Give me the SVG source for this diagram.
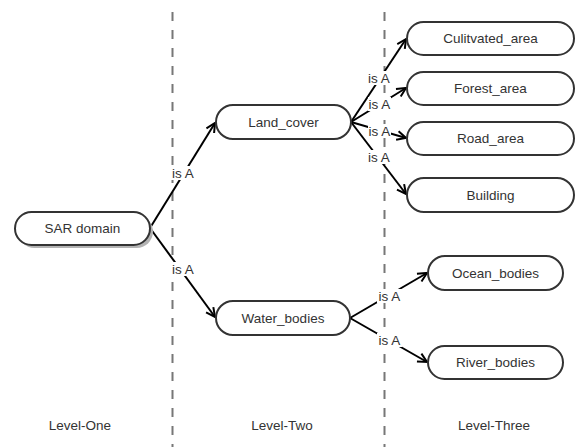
<svg xmlns="http://www.w3.org/2000/svg" width="576" height="447" viewBox="0 0 576 447">
<defs>
<marker id="arr" markerUnits="userSpaceOnUse" markerWidth="12" markerHeight="12" viewBox="0 0 12 12" refX="11" refY="6" orient="auto">
<path d="M2,1.5 L11,6 L2,10.5" fill="none" stroke="#000" stroke-width="2"/>
</marker>
</defs>
<style>
text{font-family:"Liberation Sans",Arial,Helvetica,sans-serif;font-size:13.5px;fill:#333;text-anchor:middle}
.node{fill:#fff;stroke:#333;stroke-width:2}
.edge{fill:none;stroke:#000;stroke-width:2;marker-end:url(#arr)}
.sep{stroke:#777;stroke-width:2;stroke-dasharray:9 9}
.lblbg{fill:#fff}
</style>
<g id="separators">
<line class="sep" x1="172.5" y1="12" x2="172.5" y2="447"/>
<line class="sep" x1="384.5" y1="12" x2="384.5" y2="447"/>
</g>
<g id="connectors">
<path class="edge" d="M150,228 L215,123"/>
<path class="edge" d="M150,228 L215,317"/>
<path class="edge" d="M351,122 L406,39"/>
<path class="edge" d="M351,122 L406,88"/>
<path class="edge" d="M351,122 L406,138"/>
<path class="edge" d="M351,122 L406,194"/>
<path class="edge" d="M350,318 L427,273"/>
<path class="edge" d="M350,318 L427,362"/>
<g id="edge-labels">
<rect class="lblbg" x="171" y="166" width="24" height="14"/><text x="183" y="177.5">is A</text>
<rect class="lblbg" x="171" y="262" width="24" height="14"/><text x="183" y="273.5">is A</text>
<rect class="lblbg" x="367" y="71" width="24" height="14"/><text x="379" y="82.5">is A</text>
<rect class="lblbg" x="368" y="97" width="23" height="14"/><text x="379.5" y="108.5">is A</text>
<rect class="lblbg" x="368" y="124" width="23" height="14"/><text x="379.5" y="135.5">is A</text>
<rect class="lblbg" x="367" y="150" width="24" height="14"/><text x="379" y="161.5">is A</text>
<rect class="lblbg" x="377" y="289" width="25" height="14"/><text x="389.5" y="300.5">is A</text>
<rect class="lblbg" x="377" y="333" width="25" height="14"/><text x="389.5" y="344.5">is A</text>
</g>
</g>
<g id="sar-domain">
<rect x="18" y="215" width="135" height="33" rx="16.5" fill="#b3b3b3"/>
<rect class="node" x="15" y="212" width="135" height="33" rx="16.5" stroke-width="3"/>
<text x="82.5" y="233">SAR domain</text>
</g>
<g id="land-cover">
<rect class="node" x="216" y="105" width="135" height="34" rx="17"/>
<text x="283.5" y="126.5">Land_cover</text>
</g>
<g id="water-bodies">
<rect class="node" x="216" y="301" width="134" height="34" rx="17"/>
<text x="283" y="322.5">Water_bodies</text>
</g>
<g id="cultivated-area">
<rect class="node" x="407" y="22" width="167" height="33" rx="16.5"/>
<text x="490.5" y="43">Culitvated_area</text>
</g>
<g id="forest-area">
<rect class="node" x="407" y="72" width="167" height="33" rx="16.5"/>
<text x="490.5" y="93">Forest_area</text>
</g>
<g id="road-area">
<rect class="node" x="407" y="122" width="167" height="33" rx="16.5"/>
<text x="490.5" y="143">Road_area</text>
</g>
<g id="building">
<rect class="node" x="407" y="178" width="167" height="34" rx="17"/>
<text x="490.5" y="199.5">Building</text>
</g>
<g id="ocean-bodies">
<rect class="node" x="428" y="256" width="135" height="34" rx="17"/>
<text x="495.5" y="277.5">Ocean_bodies</text>
</g>
<g id="river-bodies">
<rect class="node" x="428" y="346" width="135" height="33" rx="16.5"/>
<text x="495.5" y="367">River_bodies</text>
</g>
<g id="levels">
<text x="80" y="429.5">Level-One</text>
<text x="282" y="429.5">Level-Two</text>
<text x="494" y="429.5">Level-Three</text>
</g>
</svg>
